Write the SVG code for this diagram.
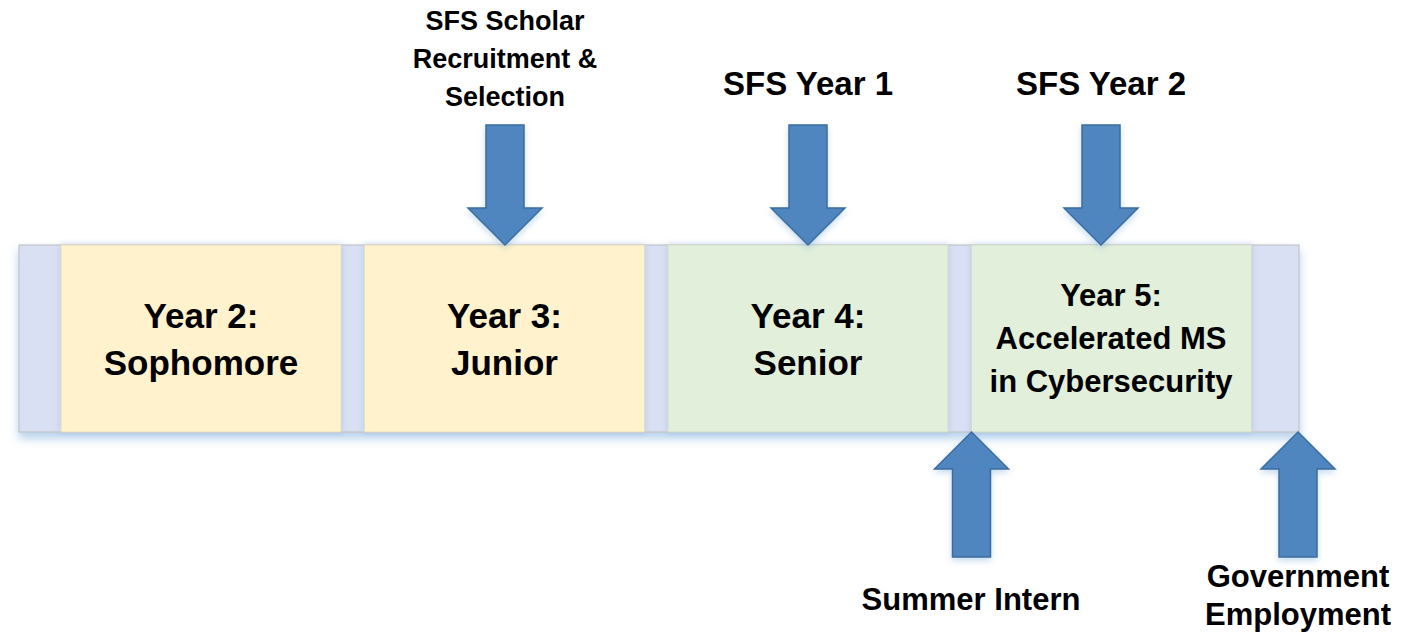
<svg xmlns="http://www.w3.org/2000/svg" width="1414" height="639" viewBox="0 0 1414 639">
<defs>
<filter id="barShadow" x="-5%" y="-20%" width="110%" height="150%">
<feDropShadow dx="0" dy="6" stdDeviation="5" flood-color="#5B9BD5" flood-opacity="0.45"/>
</filter>
<filter id="boxShadow" x="-10%" y="-10%" width="120%" height="120%">
<feDropShadow dx="0" dy="0" stdDeviation="3" flood-color="#8FA6D8" flood-opacity="0.45"/>
</filter>
<filter id="arrowShadow" x="-30%" y="-20%" width="160%" height="140%">
<feDropShadow dx="0" dy="3" stdDeviation="3" flood-color="#5B9BD5" flood-opacity="0.35"/>
</filter>
</defs>
<style>
.bar{fill:#D9E0F3;stroke:#C4C4C4;stroke-width:1.2}
.yel{fill:#FFF2CC;stroke:#E6DCC0;stroke-width:1}
.grn{fill:#E2EFDA;stroke:#D3DDCC;stroke-width:1}
.arr{fill:#4F86BF;stroke:#3D6C9F;stroke-width:1.5;stroke-linejoin:miter}
text{font-family:"Liberation Sans",Arial,sans-serif;font-weight:bold;fill:#000;text-anchor:middle}
.big{font-size:35px}
.mid{font-size:31px}
.top{font-size:33px}
.sm{font-size:27px}
</style>
<rect width="1414" height="639" fill="#FFFFFF"/>
<g id="timeline-bar">
<rect class="bar" x="19" y="245" width="1280" height="187" filter="url(#barShadow)"/>
</g>
<g id="year2">
<rect class="yel" x="61" y="245" width="280" height="187" filter="url(#boxShadow)"/>
<text class="big" x="201" y="328">Year 2:</text>
<text class="big" x="201" y="375">Sophomore</text>
</g>
<g id="year3">
<rect class="yel" x="364.5" y="245" width="280" height="187" filter="url(#boxShadow)"/>
<text class="big" x="504.5" y="328">Year 3:</text>
<text class="big" x="504.5" y="375">Junior</text>
</g>
<g id="year4">
<rect class="grn" x="668" y="245" width="280" height="187" filter="url(#boxShadow)"/>
<text class="big" x="808" y="328">Year 4:</text>
<text class="big" x="808" y="375">Senior</text>
</g>
<g id="year5">
<rect class="grn" x="971.5" y="245" width="280" height="187" filter="url(#boxShadow)"/>
<text class="mid" x="1111" y="306">Year 5:</text>
<text class="mid" x="1111" y="349">Accelerated MS</text>
<text class="mid" x="1111" y="392">in Cybersecurity</text>
</g>
<g id="connectors">
<polygon class="arr" filter="url(#arrowShadow)" points="486,125 524,125 524,208 542,208 505,245 468,208 486,208"/>
<polygon class="arr" filter="url(#arrowShadow)" points="789,125 827,125 827,208 845,208 808,245 771,208 789,208"/>
<polygon class="arr" filter="url(#arrowShadow)" points="1082,125 1120,125 1120,208 1138,208 1101,245 1064,208 1082,208"/>
<polygon class="arr" filter="url(#arrowShadow)" points="971.5,432 1008.5,469 990.5,469 990.5,557 952.5,557 952.5,469 934.5,469"/>
<polygon class="arr" filter="url(#arrowShadow)" points="1298,432 1335,469 1317,469 1317,557 1279,557 1279,469 1261,469"/>
</g>
<g id="label-recruitment">
<text class="sm" x="505" y="30">SFS Scholar</text>
<text class="sm" x="505" y="68">Recruitment &amp;</text>
<text class="sm" x="505" y="106">Selection</text>
</g>
<g id="label-sfs-year1">
<text class="top" x="808" y="95">SFS Year 1</text>
</g>
<g id="label-sfs-year2">
<text class="top" x="1101" y="95">SFS Year 2</text>
</g>
<g id="label-summer-intern">
<text class="mid" x="971" y="610">Summer Intern</text>
</g>
<g id="label-government">
<text class="mid" x="1298" y="587">Government</text>
<text class="mid" x="1298" y="625">Employment</text>
</g>
</svg>
